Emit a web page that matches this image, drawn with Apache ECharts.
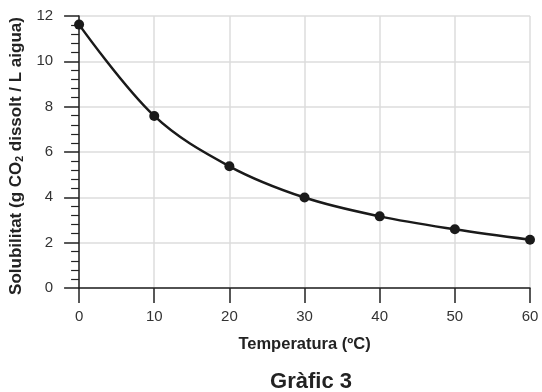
<!DOCTYPE html>
<html><head><meta charset="utf-8">
<script src="https://cdn.jsdelivr.net/npm/echarts@6/dist/echarts.min.js"></script>
<style>html,body{margin:0;padding:0;background:#fff}#c{width:542px;height:392px}</style>
</head><body><div id="c"></div>
<script>
const temperatures = [0, 10, 20, 30, 40, 50, 60];
const solubility = [11.62, 7.59, 5.37, 3.99, 3.16, 2.59, 2.13];
const xTitle = 'Temperatura (ºC)';
const chartTitle = 'Gràfic 3';

const font = '"Liberation Sans", Arial, Helvetica, sans-serif';
const chart = echarts.init(document.getElementById('c'));
chart.setOption({
  animation: false,
  title: {
    text: chartTitle, left: 306, textAlign: 'center', top: 366,
    textStyle: { fontFamily: font, fontWeight: 'bold', fontSize: 22, color: '#222' }
  },
  grid: { left: 77, right: 12, top: 16, bottom: 104 },
  xAxis: {
    type: 'value', min: 0, max: 60, interval: 10,
    name: xTitle, nameLocation: 'middle', nameGap: 48,
    nameTextStyle: { fontFamily: font, fontWeight: 'bold', fontSize: 16.5, color: '#222' },
    axisLine: { lineStyle: { color: '#222', width: 1.5 } },
    axisTick: { show: true, length: 15, lineStyle: { color: '#222', width: 1.5 } },
    axisLabel: { margin: 21, fontFamily: font, fontSize: 15, color: '#333' },
    splitLine: { show: true, lineStyle: { color: '#ddd', width: 1.5 } }
  },
  yAxis: {
    type: 'value', min: 0, max: 12, interval: 2,
    name: '{b|Solubilitat (g CO}{s|2}{b| dissolt / L aigua)}',
    nameLocation: 'middle', nameGap: 49,
    nameTextStyle: {
      padding: [0, 8, 0, 0],
      rich: {
        b: { fontFamily: font, fontWeight: 'bold', fontSize: 17, color: '#222' },
        s: { fontFamily: font, fontWeight: 'bold', fontSize: 10.5, color: '#222', padding: [7, 0, 0, 0] }
      }
    },
    axisLine: { show: true, lineStyle: { color: '#222', width: 1.5 } },
    axisTick: { show: true, length: 15, lineStyle: { color: '#222', width: 1.5 } },
    minorTick: { show: true, splitNumber: 5, length: 8, lineStyle: { color: '#222', width: 1.2 } },
    axisLabel: { margin: 26, fontFamily: font, fontSize: 15, color: '#333' },
    splitLine: { show: true, lineStyle: { color: '#ddd', width: 1.5 } }
  },
  series: [{
    type: 'line',
    data: temperatures.map((t, i) => [t, solubility[i]]),
    smooth: 0.35,
    symbol: 'circle', symbolSize: 10,
    lineStyle: { color: '#1a1a1a', width: 2.5 },
    itemStyle: { color: '#1a1a1a' }
  }]
});
</script></body></html>
